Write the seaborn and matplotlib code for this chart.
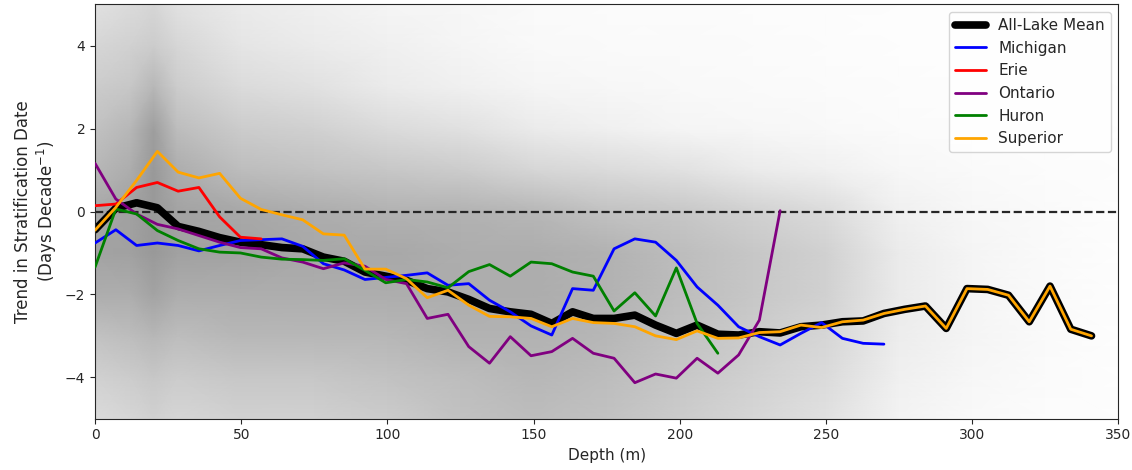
import numpy as np
import matplotlib
matplotlib.use("Agg")
import matplotlib.pyplot as plt
from matplotlib.colors import LinearSegmentedColormap
import seaborn as sns

# depth bins (m)
depth = [0.0, 7.1, 14.2, 21.3, 28.4, 35.5, 42.6, 49.7, 56.8, 63.9,
         71.0, 78.1, 85.2, 92.3, 99.4, 106.5, 113.6, 120.7, 127.8, 134.9,
         142.0, 149.1, 156.2, 163.3, 170.4, 177.5, 184.6, 191.7, 198.8, 205.9,
         213.0, 220.1, 227.2, 234.3, 241.4, 248.5, 255.6, 262.7, 269.8, 276.9,
         284.0, 291.1, 298.2, 305.3, 312.4, 319.5, 326.6, 333.7, 340.8]

all_lake_mean = [-0.44, 0.08, 0.21, 0.09, -0.36, -0.48, -0.63, -0.74, -0.80, -0.87,
                 -0.90, -1.10, -1.20, -1.46, -1.56, -1.66, -1.86, -1.94, -2.12, -2.34,
                 -2.42, -2.48, -2.70, -2.42, -2.58, -2.58, -2.50, -2.74, -2.94, -2.74,
                 -2.96, -2.98, -2.90, -2.93, -2.78, -2.74, -2.66, -2.64, -2.46, -2.36,
                 -2.28, -2.82, -1.86, -1.88, -2.02, -2.66, -1.80, -2.84, -3.00]

michigan = [-0.76, -0.44, -0.82, -0.76, -0.82, -0.95, -0.82, -0.70, -0.68, -0.66,
            -0.84, -1.26, -1.41, -1.64, -1.59, -1.54, -1.48, -1.78, -1.74, -2.14,
            -2.42, -2.76, -2.98, -1.86, -1.90, -0.90, -0.66, -0.74, -1.18, -1.82,
            -2.26, -2.78, -3.02, -3.22, -2.94, -2.68, -3.06, -3.18, -3.20]

erie = [0.14, 0.18, 0.58, 0.70, 0.49, 0.58, -0.13, -0.62, -0.66]

ontario = [1.16, 0.30, -0.06, -0.31, -0.42, -0.58, -0.74, -0.87, -0.90, -1.12,
           -1.22, -1.38, -1.24, -1.32, -1.64, -1.74, -2.58, -2.48, -3.26, -3.66,
           -3.02, -3.48, -3.38, -3.06, -3.42, -3.54, -4.13, -3.92, -4.02, -3.54,
           -3.90, -3.46, -2.62, 0.02]

huron = [-1.34, 0.06, -0.06, -0.46, -0.70, -0.90, -0.98, -1.00, -1.10, -1.15,
         -1.16, -1.18, -1.14, -1.42, -1.72, -1.64, -1.70, -1.84, -1.45, -1.28,
         -1.56, -1.22, -1.26, -1.46, -1.56, -2.40, -1.96, -2.52, -1.36, -2.70,
         -3.42]

superior = [-0.45, 0.10, 0.75, 1.45, 0.95, 0.81, 0.92, 0.32, 0.05, -0.08,
            -0.20, -0.54, -0.57, -1.39, -1.39, -1.62, -2.08, -1.90, -2.26, -2.53,
            -2.54, -2.58, -2.78, -2.58, -2.68, -2.70, -2.78, -3.00, -3.09, -2.88,
            -3.06, -3.05, -2.92, -2.90, -2.74, -2.80, -2.66, -2.62, -2.46, -2.36,
            -2.28, -2.82, -1.86, -1.88, -2.02, -2.66, -1.80, -2.84, -3.00]

# rough density of the grey point cloud (0 = empty, 1 = densest)
cloud_depth = [0, 12, 20, 28, 50, 75, 100, 125, 150, 175, 200, 225, 250, 275, 300, 325, 350]
cloud_trend = [-5, -4, -3, -2, -1, 0, 1, 2, 3, 4, 5]
cloud_density = [
    [0.35, 0.40, 0.45, 0.40, 0.45, 0.45, 0.50, 0.60, 0.65, 0.60, 0.50, 0.40, 0.30, 0.12, 0.06, 0.03, 0.02],
    [0.45, 0.50, 0.55, 0.50, 0.55, 0.55, 0.60, 0.65, 0.70, 0.65, 0.55, 0.45, 0.35, 0.15, 0.08, 0.04, 0.02],
    [0.60, 0.65, 0.70, 0.65, 0.70, 0.70, 0.70, 0.75, 0.75, 0.70, 0.60, 0.50, 0.40, 0.18, 0.10, 0.05, 0.02],
    [0.80, 0.80, 0.90, 0.80, 0.80, 0.80, 0.80, 0.80, 0.80, 0.75, 0.65, 0.55, 0.45, 0.20, 0.10, 0.05, 0.02],
    [0.90, 0.92, 1.00, 0.92, 0.90, 0.85, 0.85, 0.80, 0.80, 0.75, 0.65, 0.55, 0.45, 0.20, 0.10, 0.05, 0.02],
    [0.85, 0.92, 1.00, 0.90, 0.85, 0.80, 0.75, 0.75, 0.70, 0.60, 0.55, 0.45, 0.35, 0.15, 0.08, 0.05, 0.02],
    [0.70, 0.80, 1.00, 0.80, 0.65, 0.60, 0.55, 0.50, 0.40, 0.35, 0.30, 0.20, 0.15, 0.08, 0.05, 0.03, 0.02],
    [0.60, 0.70, 0.95, 0.65, 0.50, 0.45, 0.35, 0.30, 0.20, 0.15, 0.10, 0.08, 0.06, 0.04, 0.03, 0.02, 0.01],
    [0.50, 0.55, 0.70, 0.50, 0.35, 0.30, 0.20, 0.15, 0.10, 0.08, 0.06, 0.05, 0.04, 0.03, 0.02, 0.02, 0.01],
    [0.40, 0.45, 0.50, 0.40, 0.25, 0.20, 0.15, 0.10, 0.06, 0.05, 0.05, 0.04, 0.03, 0.02, 0.02, 0.01, 0.01],
    [0.30, 0.35, 0.40, 0.30, 0.20, 0.15, 0.10, 0.08, 0.05, 0.04, 0.04, 0.03, 0.03, 0.02, 0.02, 0.01, 0.01],
]

sns.set_style("ticks")
plt.rcParams["font.family"] = ["DejaVu Sans"]
plt.rcParams["font.size"] = 10

fig, ax = plt.subplots(figsize=(11.32, 4.70), dpi=100)
fig.subplots_adjust(left=0.084, right=0.988, top=0.991, bottom=0.109)

grey_cmap = LinearSegmentedColormap.from_list("cloud", ["#ffffff", "#999999"])
ax.pcolormesh(cloud_depth, cloud_trend, np.array(cloud_density), shading="gouraud",
              cmap=grey_cmap, vmin=0, vmax=1, zorder=0, rasterized=True)

ax.axhline(0, color="0.15", linestyle="--", linewidth=1.6, zorder=1)

sns.lineplot(x=depth, y=all_lake_mean, color="black", linewidth=5.5, ax=ax,
             label="All-Lake Mean", zorder=2)
lakes = [("Michigan", michigan, "blue"), ("Erie", erie, "red"),
         ("Ontario", ontario, "purple"), ("Huron", huron, "green"),
         ("Superior", superior, "orange")]
for name, vals, col in lakes:
    sns.lineplot(x=depth[:len(vals)], y=vals, color=col, linewidth=2, ax=ax,
                 label=name, zorder=3)

ax.set_xlim(0, 350)
ax.set_ylim(-5, 5)
ax.set_yticks([-4, -2, 0, 2, 4])
ax.tick_params(labelsize=10)
ax.set_xlabel("Depth (m)", fontsize=11)
ax.set_ylabel("Trend in Stratification Date\n(Days Decade$^{-1}$)", fontsize=12)
ax.legend(loc="upper right", frameon=True, fontsize=11)
for s in ax.spines.values():
    s.set_color("0.15")

fig.savefig("out.png", dpi=100)
